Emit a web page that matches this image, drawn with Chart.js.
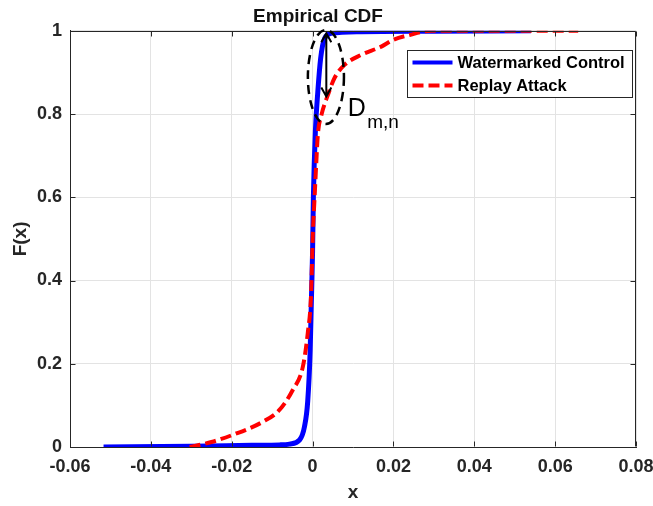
<!DOCTYPE html>
<html>
<head>
<meta charset="utf-8">
<script src="https://cdn.jsdelivr.net/npm/chart.js@4/dist/chart.umd.min.js"></script>
<style>
  html, body { margin: 0; padding: 0; background: #fff; }
  #wrap { width: 653px; height: 506px; }
</style>
</head>
<body>
<div id="wrap"><canvas id="cdfChart" width="653" height="506"></canvas></div>
<script>
// empirical CDF samples
const wmX = [-0.0517, -0.03, -0.015, -0.0082, -0.0057, -0.0032, -0.002, -0.0012, -0.0006, -0.0003, 0.0, 0.0002, 0.0007, 0.0013, 0.002, 0.003, 0.0046, 0.012, 0.03, 0.054];
const wmY = [0, 0.002, 0.004, 0.005, 0.007, 0.017, 0.049, 0.11, 0.23, 0.35, 0.47, 0.6, 0.76, 0.854, 0.934, 0.982, 0.994, 0.998, 0.999, 1.0];

const raX = [-0.0304, -0.025, -0.0198, -0.0124, -0.0082, -0.0049, -0.0024, -0.0012, -0.0004, 0.0001, 0.0005, 0.0009, 0.0013, 0.0022, 0.0038, 0.0054, 0.0079, 0.012, 0.017, 0.0199, 0.024, 0.0294, 0.0657];
const raY = [0, 0.012, 0.029, 0.06, 0.089, 0.137, 0.193, 0.273, 0.36, 0.52, 0.6, 0.68, 0.75, 0.798, 0.846, 0.886, 0.918, 0.942, 0.962, 0.978, 0.99, 1.0, 1.0];

const xTicks = [-0.06, -0.04, -0.02, 0, 0.02, 0.04, 0.06, 0.08];
const yTicks = [0, 0.2, 0.4, 0.6, 0.8, 1];
const seriesNames = ['Watermarked Control', 'Replay Attack'];

const FONT = '"Liberation Sans", Arial, Helvetica, sans-serif';
const AXIS_COL = '#262626';

const toPoints = (xs, ys) => xs.map((v, i) => ({ x: v, y: ys[i] }));

// box, inward ticks, the D_{m,n} marker and the legend
const extras = {
  id: 'extras',
  afterDatasetsDraw(chart) {
    const { ctx, chartArea: a, scales: { x, y } } = chart;
    const top = Math.round(a.top) + 0.5;
    const right = Math.round(a.right) - 0.5;
    const bottom = Math.round(a.bottom) - 0.5;
    const left = Math.round(a.left) + 0.5;
    ctx.save();

    ctx.strokeStyle = AXIS_COL;
    ctx.lineWidth = 1;
    ctx.beginPath();
    ctx.moveTo(left, top); ctx.lineTo(right, top); ctx.lineTo(right, bottom);
    ctx.stroke();

    ctx.beginPath();
    xTicks.forEach(v => {
      const px = Math.round(x.getPixelForValue(v)) + 0.5;
      ctx.moveTo(px, bottom); ctx.lineTo(px, bottom - 5);
      ctx.moveTo(px, top); ctx.lineTo(px, top + 5);
    });
    yTicks.forEach(v => {
      const py = Math.round(y.getPixelForValue(v)) + 0.5;
      ctx.moveTo(left, py); ctx.lineTo(left + 5, py);
      ctx.moveTo(right, py); ctx.lineTo(right - 5, py);
    });
    ctx.stroke();

    // dashed ellipse around the largest gap
    const cx = x.getPixelForValue(0.0033), cy = y.getPixelForValue(0.889);
    const rx = x.getPixelForValue(0.0033 + 0.00446) - cx;
    const ry = cy - y.getPixelForValue(0.889 + 0.113);
    ctx.strokeStyle = '#000';
    ctx.lineWidth = 2.5;
    ctx.setLineDash([9, 6]);
    ctx.beginPath();
    ctx.ellipse(cx, cy, rx, ry, 0, 0, Math.PI * 2);
    ctx.stroke();
    ctx.setLineDash([]);

    // double arrow
    const ax = x.getPixelForValue(0.0034);
    const y1 = y.getPixelForValue(0.994), y2 = y.getPixelForValue(0.842);
    ctx.lineWidth = 2;
    ctx.beginPath();
    ctx.moveTo(ax, y1); ctx.lineTo(ax, y2);
    ctx.moveTo(ax - 5, y1 + 9); ctx.lineTo(ax, y1); ctx.lineTo(ax + 5, y1 + 9);
    ctx.moveTo(ax - 5, y2 - 9); ctx.lineTo(ax, y2); ctx.lineTo(ax + 5, y2 - 9);
    ctx.stroke();

    ctx.fillStyle = '#000';
    ctx.textBaseline = 'alphabetic';
    ctx.textAlign = 'left';
    ctx.font = '25px ' + FONT;
    ctx.fillText('D', x.getPixelForValue(0.0087), y.getPixelForValue(0.796));
    ctx.font = '19px ' + FONT;
    ctx.fillText('m,n', x.getPixelForValue(0.0135), y.getPixelForValue(0.766));

    // legend
    const bx = Math.round(a.right) - 229 + 0.5, by = Math.round(a.top) + 19 + 0.5;
    const bw = 225, bh = 47;
    ctx.fillStyle = '#fff';
    ctx.fillRect(bx, by, bw, bh);
    ctx.strokeStyle = AXIS_COL;
    ctx.lineWidth = 1;
    ctx.strokeRect(bx, by, bw, bh);
    chart.data.datasets.forEach((ds, i) => {
      const ly = by + 12 + i * 23;
      ctx.strokeStyle = ds.borderColor;
      ctx.lineWidth = 4;
      ctx.setLineDash(ds.borderDash || []);
      ctx.beginPath();
      ctx.moveTo(bx + 5, ly); ctx.lineTo(bx + 45, ly);
      ctx.stroke();
      ctx.setLineDash([]);
      ctx.fillStyle = '#000';
      ctx.font = 'bold 16.5px ' + FONT;
      ctx.textBaseline = 'middle';
      ctx.fillText(ds.label, bx + 50, ly + 1);
    });

    ctx.restore();
  }
};

new Chart(document.getElementById('cdfChart'), {
  type: 'line',
  data: {
    datasets: [
      {
        label: seriesNames[0],
        data: toPoints(wmX, wmY),
        borderColor: '#0000ff',
        borderWidth: 5,
        pointRadius: 0,
        cubicInterpolationMode: 'monotone',
        order: 2
      },
      {
        label: seriesNames[1],
        data: toPoints(raX, raY),
        borderColor: '#ff0000',
        borderWidth: 4,
        borderDash: [11, 5],
        pointRadius: 0,
        cubicInterpolationMode: 'monotone',
        order: 1
      }
    ]
  },
  options: {
    responsive: false,
    devicePixelRatio: 1,
    animation: false,
    layout: { padding: { right: 17 } },
    plugins: {
      legend: { display: false },
      tooltip: { enabled: false },
      title: {
        display: true,
        text: 'Empirical CDF',
        color: '#111',
        font: { family: FONT, size: 19, weight: 'bold' },
        padding: { top: 5, bottom: 3 }
      }
    },
    scales: {
      x: {
        type: 'linear',
        min: -0.06,
        max: 0.08,
        afterBuildTicks: s => { s.ticks = xTicks.map(v => ({ value: v })); },
        afterFit: s => { s.height = 59; s.paddingLeft = 0; s.paddingRight = 0; },
        ticks: {
          color: AXIS_COL,
          padding: 9,
          maxRotation: 0,
          font: { family: FONT, size: 18, weight: 'bold' },
          callback: v => String(v)
        },
        grid: { color: '#e3e3e3', drawTicks: false },
        border: { color: AXIS_COL, width: 1 },
        title: {
          display: true,
          text: 'x',
          color: AXIS_COL,
          font: { family: FONT, size: 19, weight: 'bold' },
          padding: { top: 0, bottom: 2 }
        }
      },
      y: {
        min: 0,
        max: 1,
        afterBuildTicks: s => { s.ticks = yTicks.map(v => ({ value: v })); },
        afterFit: s => { s.width = 70; s.paddingTop = 0; s.paddingBottom = 0; },
        ticks: {
          color: AXIS_COL,
          padding: 8,
          font: { family: FONT, size: 18, weight: 'bold' },
          callback: v => String(v)
        },
        grid: { color: '#e3e3e3', drawTicks: false },
        border: { color: AXIS_COL, width: 1 },
        title: {
          display: true,
          text: 'F(x)',
          color: AXIS_COL,
          font: { family: FONT, size: 19, weight: 'bold' },
          padding: { top: 9, bottom: 0 }
        }
      }
    }
  },
  plugins: [extras]
});
</script>
</body>
</html>
